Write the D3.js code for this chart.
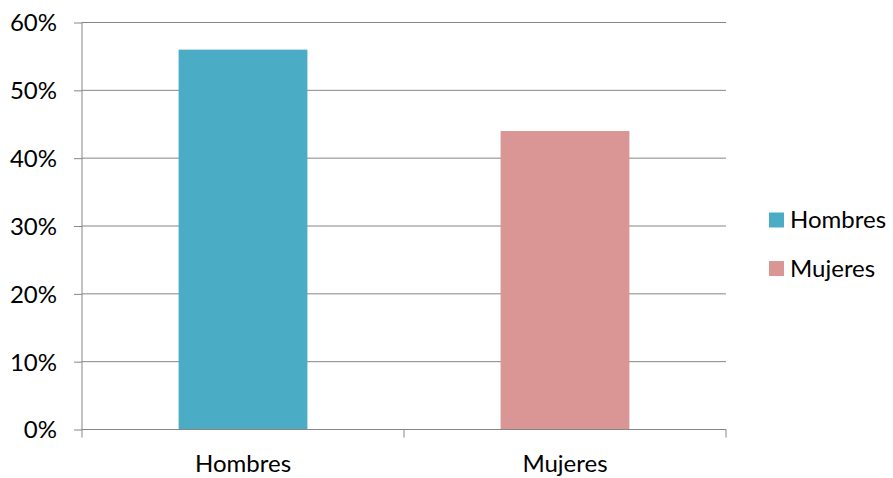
<!DOCTYPE html>
<html>
<head>
<meta charset="utf-8">
<script src="https://cdn.jsdelivr.net/npm/d3@7"></script>
<style>
  html, body { margin: 0; padding: 0; background: #ffffff; }
  svg { display: block; font-family: Lato, "Open Sans", sans-serif; }
</style>
</head>
<body>
<svg id="chart" width="893" height="478"></svg>
<script>
// Share of people by sex
const categories = ["Hombres", "Mujeres"];
const values = [0.56, 0.44];
const colors = ["#4BACC6", "#D99694"];
const yTicks = [0, 0.1, 0.2, 0.3, 0.4, 0.5, 0.6];

const svg = d3.select("#chart");
const plotLeft = 82, plotRight = 726, plotTop = 22.5, plotBottom = 429.5;
const axisColor = "#868686";
const fontSize = 24;

const y = d3.scaleLinear().domain([0, 0.6]).range([plotBottom, plotTop]);
const xBand = d3.scaleBand().domain(categories).range([plotLeft, plotRight]).padding(0);
const xBar = d3.scaleBand().domain(categories).range([plotLeft, plotRight])
  .paddingInner(0.6).paddingOuter(0.3);

// horizontal gridlines
svg.append("g").selectAll("line").data(yTicks.filter(d => d > 0)).join("line")
  .attr("x1", plotLeft).attr("x2", plotRight)
  .attr("y1", d => y(d)).attr("y2", d => y(d))
  .attr("stroke", axisColor).attr("stroke-width", 1);

// bars
svg.append("g").selectAll("rect").data(categories).join("rect")
  .attr("x", d => xBar(d))
  .attr("width", xBar.bandwidth())
  .attr("y", (d, i) => y(values[i]))
  .attr("height", (d, i) => y(0) - y(values[i]))
  .attr("fill", (d, i) => colors[i]);

// y axis
const yAxis = d3.axisLeft(y).tickValues(yTicks).tickFormat(d3.format(".0%"))
  .tickSize(8).tickPadding(17);
const gy = svg.append("g").attr("transform", `translate(${plotLeft},0)`).call(yAxis);
gy.select(".domain").attr("stroke", axisColor).attr("d", `M0,${plotTop}V${plotBottom}`);
gy.selectAll(".tick line").attr("stroke", axisColor);
gy.selectAll(".tick text").attr("fill", "#000").attr("font-size", fontSize)
  .attr("font-family", "Lato, sans-serif").attr("dy", "0.35em");

// x axis with ticks at category boundaries
svg.append("line").attr("x1", plotLeft).attr("x2", plotRight)
  .attr("y1", plotBottom).attr("y2", plotBottom)
  .attr("stroke", axisColor);
const boundaries = categories.map(c => xBand(c))
  .concat([xBand(categories[categories.length - 1]) + xBand.bandwidth()]);
svg.append("g").selectAll("line").data(boundaries).join("line")
  .attr("x1", d => d).attr("x2", d => d)
  .attr("y1", plotBottom).attr("y2", plotBottom + 8)
  .attr("stroke", axisColor);
svg.append("g").selectAll("text").data(categories).join("text")
  .attr("x", d => xBand(d) + xBand.bandwidth() / 2)
  .attr("y", 472)
  .attr("text-anchor", "middle")
  .attr("font-size", fontSize)
  .text(d => d);

// legend
const legend = svg.append("g").selectAll("g").data(categories).join("g")
  .attr("transform", (d, i) => `translate(769,${212.5 + i * 48.5})`);
legend.append("rect").attr("width", 15).attr("height", 15)
  .attr("fill", (d, i) => colors[i]);
legend.append("text").attr("x", 21).attr("y", 7.5).attr("dy", "0.35em")
  .attr("font-size", fontSize).text(d => d);
</script>
</body>
</html>
